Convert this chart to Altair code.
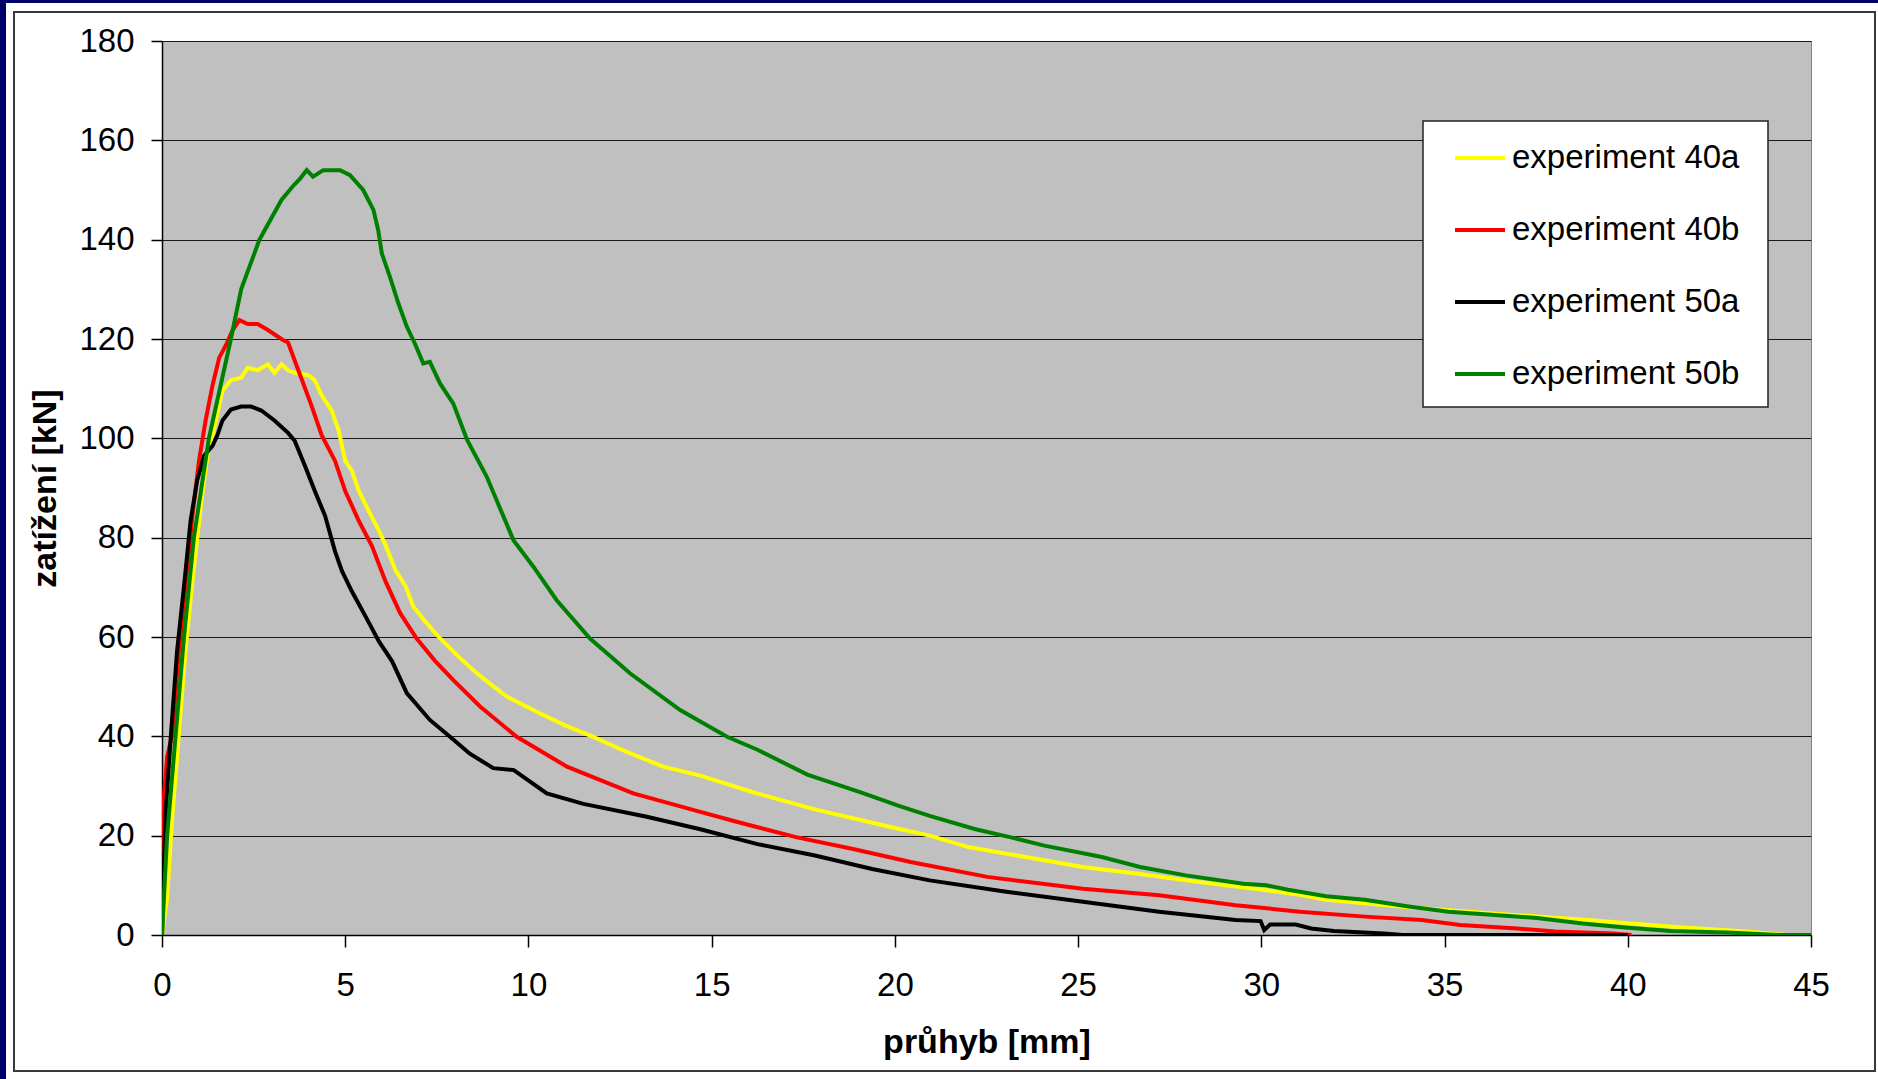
import altair as alt
import pandas as pd

# Load–deflection curves: deflection [mm] and load [kN] for each experiment
SERIES = ["experiment 40a", "experiment 40b", "experiment 50a", "experiment 50b"]
COLORS = ["#FFFF00", "#FF0000", "#000000", "#008000"]

X_40A = [0, 0.14, 0.28, 0.46, 0.64, 0.83, 1.06, 1.24, 1.47, 1.65, 1.88, 2.16, 2.34, 2.61,
         2.89, 3.07, 3.26, 3.44, 3.62, 3.99, 4.17, 4.36, 4.63, 4.82, 5.0, 5.18, 5.37, 5.64,
         5.92, 6.1, 6.38, 6.65, 6.86, 7.2, 7.59, 8.1, 8.59, 9.0, 9.41, 10.32, 11.0, 11.77,
         12.7, 13.68, 14.69, 16.15, 17.82, 19.91, 20.95, 22.0, 23.56, 25.13, 26.69, 28.26,
         29.82, 31.05, 31.77, 33.86, 35.5, 36.99, 39.08, 41.48, 43.26, 44.3]
Y_40A = [0, 7.6, 23.7, 40.4, 57.1, 71.2, 86.4, 96.5, 103.6, 109.6, 111.7, 112.2, 114.2, 113.7,
         114.9, 113.2, 114.9, 113.7, 113.2, 112.7, 111.7, 108.6, 105.6, 101.6, 95.5, 93.5, 89.4, 85.4,
         81.4, 78.5, 73.3, 70.2, 66.1, 63.0, 59.7, 56.0, 52.7, 50.3, 48.0, 44.6, 42.2, 39.9,
         36.8, 33.9, 32.1, 28.7, 25.3, 21.7, 20.0, 17.7, 15.7, 13.7, 12.3, 10.7,
         9.3, 8.1, 7.1, 5.7, 4.8, 4.0, 2.9, 1.5, 0.7, 0]

X_40B = [0, 0.02, 0.05, 0.14, 0.28, 0.46, 0.64, 0.83, 1.01, 1.19, 1.38, 1.56, 1.74, 1.93, 2.11,
         2.34, 2.61, 2.89, 3.3, 3.44, 3.72, 4.08, 4.36, 4.72, 5.0, 5.37, 5.73, 6.1, 6.5, 6.95,
         7.45, 7.95, 8.68, 9.68, 11.05, 12.86, 14.69, 15.73, 17.3, 18.86, 20.43, 22.52, 25.13,
         27.21, 29.3, 31.05, 32.82, 34.38, 35.43, 36.99, 38.03, 39.6, 40.1]
Y_40B = [0, 20.0, 27.8, 35.9, 40.4, 57.1, 70.2, 84.4, 95.5, 103.6, 110.7, 116.2, 118.7, 121.8, 123.8,
         123.0, 123.0, 121.8, 119.8, 119.3, 113.7, 106.6, 100.6, 95.5, 89.4, 83.4, 78.3, 71.2, 64.8, 59.7,
         55.2, 51.3, 46.0, 39.9, 33.9, 28.5, 24.8, 22.7, 19.7, 17.3, 14.7, 11.7, 9.3,
         8.0, 6.0, 4.7, 3.7, 3.0, 2.0, 1.3, 0.7, 0.3, 0]

X_50A = [0, 0.09, 0.23, 0.41, 0.6, 0.78, 0.96, 1.15, 1.38, 1.51, 1.65, 1.88, 2.16, 2.43, 2.71,
         3.07, 3.44, 3.62, 3.9, 4.17, 4.45, 4.72, 4.91, 5.18, 5.55, 5.92, 6.28, 6.68, 7.31, 7.86,
         8.4, 9.04, 9.6, 10.5, 11.5, 13.23, 14.69, 16.25, 17.82, 19.38, 20.95, 23.04, 25.13,
         27.21, 29.3, 29.98, 30.08, 30.24, 30.94, 31.36, 31.98, 33.34, 33.86, 40.0]
Y_50A = [0, 23.7, 38.9, 57.1, 70.2, 83.4, 91.5, 96.5, 98.5, 100.6, 103.6, 105.8, 106.4, 106.4, 105.6,
         103.6, 101.1, 99.5, 94.5, 89.4, 84.4, 77.3, 73.3, 69.2, 64.2, 59.1, 55.1, 48.7, 43.3, 39.9,
         36.5, 33.6, 33.2, 28.5, 26.4, 23.8, 21.3, 18.3, 16.0, 13.3, 11.0, 8.7, 6.7,
         4.7, 3.0, 2.8, 1.0, 2.1, 2.1, 1.3, 0.8, 0.3, 0, 0]

X_50B = [0, 0.14, 0.37, 0.6, 0.87, 1.28, 1.88, 2.16, 2.66, 3.26, 3.6, 3.77, 3.95, 4.12, 4.4,
         4.86, 5.13, 5.49, 5.77, 5.9, 6.0, 6.22, 6.45, 6.68, 6.9, 7.13, 7.31, 7.59, 7.95, 8.32,
         8.86, 9.59, 10.13, 10.77, 11.68, 12.77, 14.14, 15.42, 16.25, 17.61, 19.07, 20.11, 20.95,
         22.2, 23.14, 24.08, 25.65, 26.69, 27.94, 29.51, 30.14, 30.73, 31.77, 32.82, 34.07, 35.11,
         36.47, 37.52, 38.77, 39.92, 41.17, 42.73, 44.1, 45.0]
Y_50B = [0, 20.0, 40.0, 60.0, 80.0, 100.0, 120.0, 130.0, 140.0, 148.0, 151.0, 152.3, 154.0, 152.7, 154.0,
         154.0, 153.0, 150.0, 146.0, 141.9, 137.2, 132.5, 127.2, 122.5, 119.1, 115.1, 115.4, 111.0, 107.0, 99.8,
         92.3, 79.5, 74.2, 67.4, 59.7, 52.7, 45.3, 39.9, 37.3, 32.3, 28.7, 26.0, 24.0,
         21.3, 19.7, 18.0, 15.7, 13.7, 12.0, 10.3, 10.0, 9.1, 7.8, 7.1, 5.7, 4.7,
         4.0, 3.4, 2.3, 1.5, 0.8, 0.5, 0, 0]

X_TICKS = list(range(0, 46, 5))
Y_TICKS = list(range(0, 181, 20))

frames = []
for name, xs, ys in zip(SERIES, [X_40A, X_40B, X_50A, X_50B], [Y_40A, Y_40B, Y_50A, Y_50B]):
    frames.append(pd.DataFrame({"pruhyb": xs, "zatizeni": ys, "serie": name}))
df = pd.concat(frames, ignore_index=True)

W, H = 1649, 894
PAD = {"left": 162, "top": 41, "right": 67, "bottom": 144}
FONT = "Liberation Sans"
NAVY = "#00006a"

one = alt.Data(values=[{}])

# navy strips along the left and top edge of the page
navy_left = alt.Chart(one).mark_rect(color=NAVY).encode(
    x=alt.value(-162), x2=alt.value(-156), y=alt.value(-41), y2=alt.value(1038))
navy_top = alt.Chart(one).mark_rect(color=NAVY).encode(
    x=alt.value(-162), x2=alt.value(1716), y=alt.value(-41), y2=alt.value(-38))
# thin frame around the chart area
frame = alt.Chart(one).mark_rect(fillOpacity=0, stroke="#3a3a3a", strokeWidth=2).encode(
    x=alt.value(-148), x2=alt.value(1713), y=alt.value(-29), y2=alt.value(1030))
# white box behind the legend entries
legend_box = alt.Chart(one).mark_rect(fill="white", stroke="#222222", strokeWidth=1.5).encode(
    x=alt.value(1261), x2=alt.value(1606), y=alt.value(80), y2=alt.value(366))

lines = alt.Chart(df).mark_line(strokeWidth=4, clip=True).encode(
    x=alt.X("pruhyb:Q",
            scale=alt.Scale(domain=[0, 45], nice=False),
            axis=alt.Axis(values=X_TICKS, title="průhyb [mm]", grid=False,
                          tickSize=12, labelPadding=22, labelFlush=False,
                          titleX=W / 2, titleY=107, titleAlign="center",
                          titleBaseline="middle")),
    y=alt.Y("zatizeni:Q",
            scale=alt.Scale(domain=[0, 180], nice=False),
            axis=alt.Axis(values=Y_TICKS, title="zatížení [kN]", grid=True,
                          tickSize=11, labelPadding=17, labelFlush=False,
                          titleX=-117, titleY=H / 2, titleAngle=270,
                          titleAlign="center", titleBaseline="middle")),
    color=alt.Color("serie:N",
                    scale=alt.Scale(domain=SERIES, range=COLORS),
                    legend=alt.Legend(title=None, orient="none", legendX=1275, legendY=90,
                                      padding=0, symbolType="stroke", symbolSize=2500,
                                      symbolStrokeWidth=4, symbolOffset=16,
                                      labelFontSize=33, labelFont=FONT, labelColor="#000000",
                                      labelOffset=5, rowPadding=28, labelLimit=400)),
)

chart = alt.layer(navy_left, navy_top, frame, legend_box, lines).properties(
    width=W, height=H,
    autosize=alt.AutoSizeParams(type="none"),
    padding=PAD,
    background="white",
).configure_view(
    fill="#C0C0C0", stroke="#808080", strokeWidth=1,
).configure_axis(
    labelFont=FONT, labelFontSize=33, labelColor="#000000",
    titleFont=FONT, titleFontSize=34, titleFontWeight="bold", titleColor="#000000",
    domainColor="#000000", domainWidth=1.5, tickColor="#000000", tickWidth=1.5,
    gridColor="#1a1a1a", gridWidth=1.2,
)

chart.save("out.html", embed_options={"renderer": "svg", "actions": False})
